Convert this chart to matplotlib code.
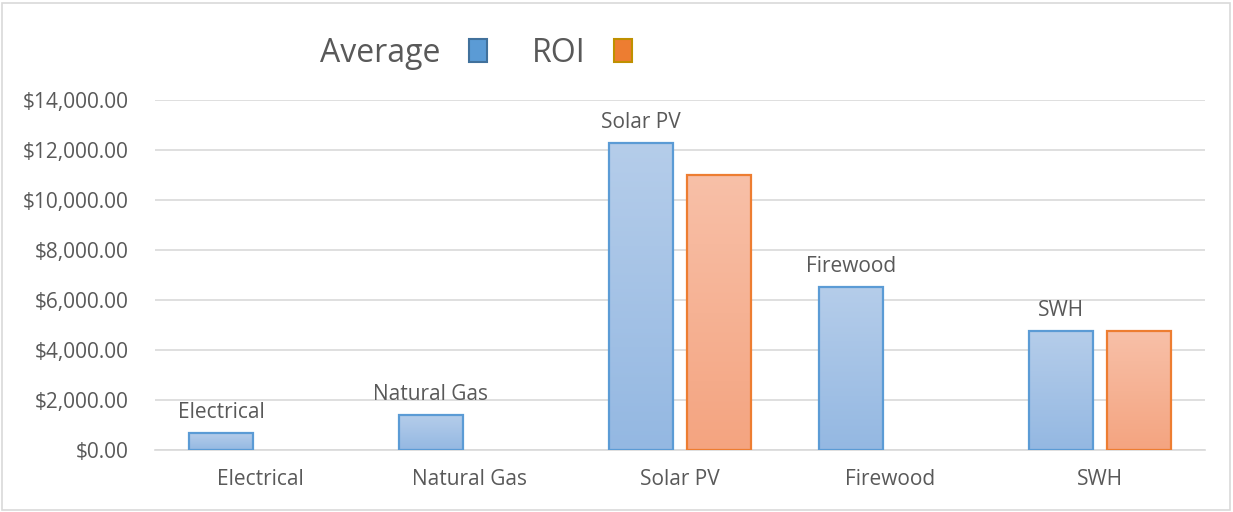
import numpy as np
import matplotlib
matplotlib.use("Agg")
import matplotlib.pyplot as plt
from matplotlib.patches import Patch, Rectangle
from matplotlib.colors import LinearSegmentedColormap
from matplotlib.ticker import FuncFormatter

plt.rcParams['font.family'] = ['Open Sans', 'DejaVu Sans']

# data
categories = ["Electrical", "Natural Gas", "Solar PV", "Firewood", "SWH"]
average = [680, 1400, 12280, 6520, 4760]
roi = [0, 0, 11000, 0, 4760]
yticks = [0, 2000, 4000, 6000, 8000, 10000, 12000, 14000]

text_col = "#595959"
grid_col = "#d9d9d9"

fig = plt.figure(figsize=(12.33, 5.12), dpi=100)
ax = fig.add_axes([155/1233, 1 - 450/512, 1050/1233, 350/512])

x = np.arange(len(categories))
w = 0.305
off = 0.186

# gradient fills: light at top, darker at bottom
blue_cmap = LinearSegmentedColormap.from_list("b", ["#94b8e2", "#b5cdea"])
orange_cmap = LinearSegmentedColormap.from_list("o", ["#f4a480", "#f8c0a8"])
grad = np.linspace(0, 1, 256).reshape(-1, 1)


def grad_bars(xpos, vals, cmap, edge):
    bars = ax.bar(xpos, vals, w, facecolor="none", edgecolor=edge, linewidth=1.6, zorder=3)
    for b in bars:
        if b.get_height() <= 0:
            b.set_visible(False)
            continue
        x0, y0 = b.get_x(), b.get_y()
        im = ax.imshow(grad, cmap=cmap, aspect="auto", origin="lower",
                       extent=[x0, x0 + b.get_width(), y0, y0 + b.get_height()], zorder=2)
        clip = Rectangle((x0, y0), b.get_width(), b.get_height(), transform=ax.transData)
        im.set_clip_path(clip)
    return bars


avg_bars = grad_bars(x - off, average, blue_cmap, "#5b9bd5")
grad_bars(x + off, roi, orange_cmap, "#ed7d31")

# category labels above the Average bars
for b, name in zip(avg_bars, categories):
    ax.annotate(name, (b.get_x() + b.get_width() / 2, b.get_height()),
                xytext=(0, 7), textcoords="offset points", ha="center", va="bottom",
                fontsize=15, color=text_col)

ax.set_xlim(-0.5, len(categories) - 0.5)
ax.set_ylim(0, 14000)
ax.set_yticks(yticks)
ax.yaxis.set_major_formatter(FuncFormatter(lambda v, p: f"${v:,.2f}"))
ax.set_xticks(x)
ax.set_xticklabels(categories)
ax.tick_params(axis="both", length=0, labelsize=15, labelcolor=text_col)
ax.tick_params(axis="y", pad=19)
ax.tick_params(axis="x", pad=14)
ax.grid(axis="y", color=grid_col, linewidth=1.2, zorder=0)
ax.set_axisbelow(True)
for s in ["top", "right", "left"]:
    ax.spines[s].set_visible(False)
ax.spines["bottom"].set_color(grid_col)
ax.spines["bottom"].set_linewidth(1.2)

handles = [Patch(facecolor="#5b9bd5", edgecolor="#41719c", linewidth=1.5, label="Average"),
           Patch(facecolor="#ed7d31", edgecolor="#bf9000", linewidth=1.5, label="ROI")]
leg = fig.legend(handles=handles, loc="center", bbox_to_anchor=(476/1233, 1 - 53/512),
                 ncol=2, frameon=False, markerfirst=False, fontsize=23,
                 handlelength=0.55, handleheight=0.72, handletextpad=0.9, columnspacing=1.4)
for t in leg.get_texts():
    t.set_color(text_col)

# outer chart border
fig.patches.append(Rectangle((2/1233, 2/512), 1228/1233, 507/512, transform=fig.transFigure,
                             fill=False, edgecolor="#d9d9d9", linewidth=1.2))

fig.savefig("out.png", dpi=100)
